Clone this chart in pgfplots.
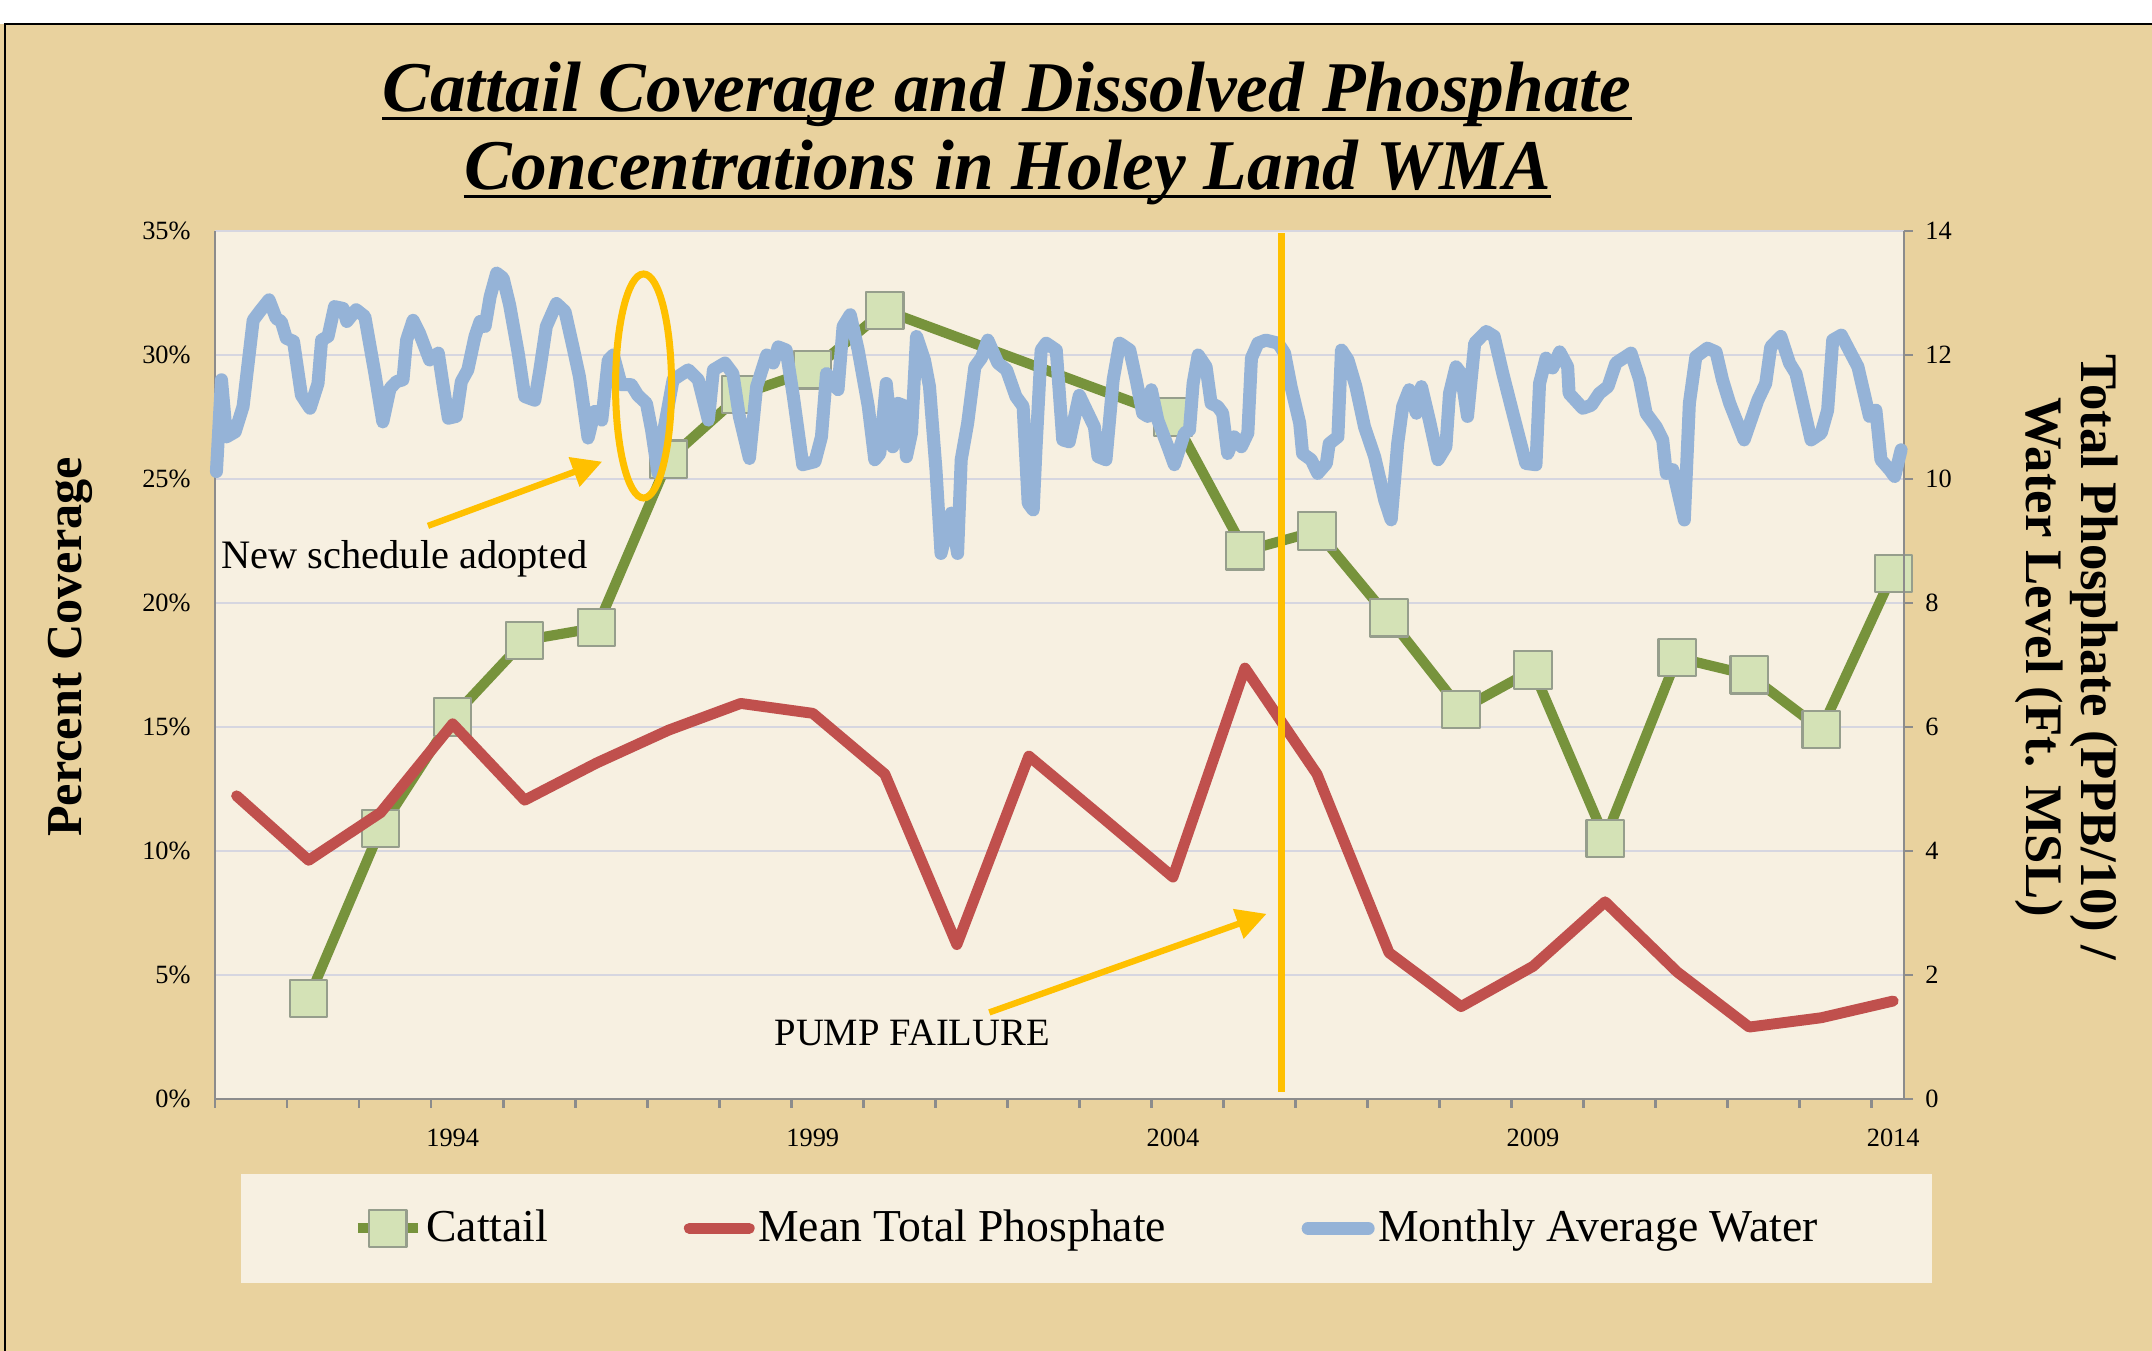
\documentclass[border=0pt]{standalone}
\usepackage{fontspec}
\setmainfont{Liberation Serif}
\usepackage{pgfplots}
\pgfplotsset{compat=1.18}
\usetikzlibrary{arrows.meta}

\definecolor{tanbg}{RGB}{233,210,158}
\definecolor{cream}{RGB}{247,240,225}
\definecolor{axisgray}{RGB}{140,140,140}
\definecolor{gridcol}{RGB}{214,214,224}
\definecolor{cgreen}{RGB}{119,147,60}
\definecolor{mgreen}{RGB}{212,226,182}
\definecolor{mborder}{RGB}{150,158,140}
\definecolor{cred}{RGB}{192,80,77}
\definecolor{cblue}{RGB}{149,179,215}
\definecolor{corange}{RGB}{255,192,0}

\pgfplotsset{
  cattail/.style={draw=cgreen, line width=2.9pt, line join=round, mark=square*, mark size=5.3pt,
    mark options={fill=mgreen, draw=mborder, line width=0.6pt}},
  phos/.style={draw=cred, line width=3.1pt, line join=round, line cap=round, no markers},
  water/.style={draw=cblue, line width=3.7pt, line join=round, line cap=round, no markers},
}

\begin{document}
\begin{tikzpicture}
\useasboundingbox (0,0) rectangle (21.52,13.51);
\fill[white] (0,0) rectangle (21.52,13.51);
\fill[tanbg] (0,0) rectangle (21.52,13.27);
\draw[black, line width=0.7pt] (0.05,0) -- (0.05,13.27) -- (21.52,13.27);
\fill[cream] (2.41,0.683) rectangle (19.32,1.77);

% title
\node[anchor=base, inner xsep=0pt, font=\fontsize{20.3}{24}\selectfont\bfseries\itshape] (t1) at (10.07,12.393) {Cattail Coverage and Dissolved Phosphate};
\draw[line width=0.8pt] ([yshift=-0.066cm]t1.base west) -- ([yshift=-0.066cm]t1.base east);
\node[anchor=base, inner xsep=0pt, font=\fontsize{20.3}{24}\selectfont\bfseries\itshape] (t2) at (10.075,11.61) {Concentrations in Holey Land WMA};
\draw[line width=0.8pt] ([yshift=-0.066cm]t2.base west) -- ([yshift=-0.066cm]t2.base east);

% axis titles
\node[rotate=90, font=\fontsize{14.3}{16}\selectfont\bfseries] at (0.70,7.04) {Percent Coverage};
\node[rotate=-90, align=center, font=\fontsize{15}{15.6}\selectfont\bfseries] at (20.665,6.94) {Total Phosphate (PPB/10) /\\Water Level (Ft. MSL)};

\begin{axis}[
  at={(2.15cm,2.52cm)}, anchor=south west, scale only axis,
  width=16.89cm, height=8.68cm,
  xmin=1990.70, xmax=2014.15, ymin=0, ymax=35,
  axis x line*=bottom, axis y line*=left,
  axis line style={draw=axisgray, line width=0.8pt},
  xtick={1994,1999,2004,2009,2014},
  xticklabels={1994,1999,2004,2009,2014},
  minor xtick={1990.7,1991.7,1992.7,1993.7,1994.7,1995.7,1996.7,1997.7,1998.7,1999.7,2000.7,2001.7,2002.7,2003.7,2004.7,2005.7,2006.7,2007.7,2008.7,2009.7,2010.7,2011.7,2012.7,2013.7},
  major tick length=0pt, minor tick length=0.09cm, tick align=outside,
  tick style={draw=axisgray, line width=0.8pt},
  ytick={0,5,...,35},
  yticklabel={\pgfmathprintnumber{\tick}\%},
  ymajorgrids, grid style={draw=gridcol, line width=0.6pt},
  axis background/.style={fill=cream},
  clip=false,
  /pgf/number format/assume math mode=true,
  ticklabel style={font=\fontsize{7.5}{9}\selectfont},
  yticklabel style={xshift=-0.12cm},
  xticklabel style={yshift=-0.18cm},
]
\addplot[cattail] coordinates {
(1992,4.06) (1993,10.9) (1994,15.4) (1995,18.5) (1996,19.0) (1997,25.8) (1998,28.4) (1999,29.4) (2000,31.8)
(2004,27.5) (2005,22.1) (2006,22.9) (2007,19.4) (2008,15.7) (2009,17.3) (2010,10.5) (2011,17.8) (2012,17.1) (2013,14.9) (2014,21.2)
};
\end{axis}

\begin{axis}[
  at={(2.15cm,2.52cm)}, anchor=south west, scale only axis,
  width=16.89cm, height=8.68cm,
  xmin=1990.70, xmax=2014.15, ymin=0, ymax=14,
  axis x line=none, axis y line*=right,
  axis line style={draw=axisgray, line width=0.8pt},
  ytick={0,2,...,14},
  major tick length=0.09cm, tick align=outside,
  tick style={draw=axisgray, line width=0.8pt},
  clip=false,
  /pgf/number format/assume math mode=true,
  ticklabel style={font=\fontsize{7.5}{9}\selectfont},
  legend style={at={(0.5163,-0.149)}, anchor=center, draw=none, fill=none,
    legend columns=3, font=\fontsize{13}{15}\selectfont,
    /tikz/every even column/.append style={column sep=1.32cm},
    nodes={inner xsep=1pt}},
  legend image code/.code={\draw[mark repeat=2,mark phase=2,#1] plot coordinates {(0cm,0cm) (0.3cm,0cm) (0.6cm,0cm)};},
]
\addlegendimage{cattail}
\addlegendentry{Cattail}
\addplot[phos] coordinates {
(1991,4.89) (1992,3.85) (1993,4.62) (1994,6.05) (1995,4.82) (1996,5.42) (1997,5.95) (1998,6.38) (1999,6.22)
(2000,5.24) (2001,2.49) (2002,5.53) (2003,4.56) (2004,3.58) (2005,6.95) (2006,5.24) (2007,2.36) (2008,1.49)
(2009,2.14) (2010,3.18) (2011,2.05) (2012,1.16) (2013,1.31) (2014,1.58)
};
\addlegendentry{Mean Total Phosphate}
\addplot[water] coordinates {
(1990.72,10.12) (1990.79,11.60) (1990.86,10.68) (1990.98,10.76) (1991.09,11.17) (1991.23,12.56) (1991.32,12.70)
(1991.45,12.89) (1991.55,12.59) (1991.62,12.54) (1991.69,12.27) (1991.79,12.22) (1991.90,11.35) (1992.02,11.14)
(1992.13,11.54) (1992.18,12.24) (1992.27,12.30) (1992.36,12.78) (1992.48,12.75) (1992.53,12.54) (1992.66,12.73)
(1992.78,12.62) (1992.92,11.70) (1993.03,10.92) (1993.13,11.46) (1993.22,11.57) (1993.31,11.60) (1993.36,12.24)
(1993.45,12.56) (1993.54,12.35) (1993.68,11.92) (1993.80,12.03) (1993.87,11.49) (1993.94,10.98) (1994.05,11.01)
(1994.12,11.57) (1994.21,11.76) (1994.31,12.30) (1994.38,12.54) (1994.45,12.46) (1994.52,12.94) (1994.61,13.32)
(1994.70,13.24) (1994.79,12.81) (1994.91,12.03) (1995.00,11.33) (1995.14,11.27) (1995.21,11.76) (1995.30,12.46)
(1995.44,12.83) (1995.56,12.70) (1995.67,12.13) (1995.76,11.65) (1995.88,10.66) (1995.97,11.09) (1996.07,10.95)
(1996.16,11.92) (1996.23,12.00) (1996.34,11.52) (1996.48,11.52) (1996.57,11.35) (1996.69,11.22) (1996.76,10.80)
(1996.85,10.10) (1996.94,10.84) (1997.06,11.60) (1997.27,11.76) (1997.41,11.60) (1997.55,10.95) (1997.62,11.76)
(1997.78,11.87) (1997.89,11.70) (1997.98,11.01) (1998.12,10.33) (1998.22,11.49) (1998.36,12.00) (1998.45,11.87)
(1998.52,12.13) (1998.63,12.08) (1998.73,11.33) (1998.86,10.23) (1999.03,10.28) (1999.12,10.68) (1999.19,11.70)
(1999.35,11.44) (1999.42,12.46) (1999.52,12.65) (1999.63,12.08) (1999.77,11.17) (1999.86,10.31) (1999.93,10.41)
(2000.02,11.54) (2000.11,10.52) (2000.18,11.22) (2000.25,11.19) (2000.30,10.36) (2000.37,10.74) (2000.44,12.30)
(2000.55,11.92) (2000.62,11.49) (2000.71,10.15) (2000.78,8.80) (2000.92,9.45) (2001.01,8.80) (2001.06,10.31)
(2001.15,10.90) (2001.25,11.81) (2001.34,11.95) (2001.43,12.24) (2001.57,11.87) (2001.69,11.76) (2001.82,11.33)
(2001.92,11.17) (2001.99,9.61) (2002.06,9.50) (2002.10,10.52) (2002.17,12.08) (2002.24,12.19) (2002.38,12.08)
(2002.47,10.63) (2002.56,10.60) (2002.70,11.35) (2002.91,10.84) (2002.96,10.36) (2003.07,10.31) (2003.17,11.60)
(2003.26,12.19) (2003.40,12.08) (2003.49,11.60) (2003.58,11.06) (2003.65,11.01) (2003.70,11.44) (2003.79,10.95)
(2003.93,10.52) (2004.02,10.23) (2004.16,10.74) (2004.23,10.79) (2004.28,11.54) (2004.35,12.00) (2004.46,11.81)
(2004.53,11.22) (2004.62,11.17) (2004.69,11.06) (2004.76,10.41) (2004.85,10.68) (2004.95,10.52) (2005.04,10.74)
(2005.09,11.95) (2005.18,12.19) (2005.29,12.24) (2005.46,12.19) (2005.55,12.03) (2005.64,11.49) (2005.76,10.90)
(2005.80,10.41) (2005.92,10.31) (2006.01,10.09) (2006.13,10.25) (2006.17,10.57) (2006.29,10.68) (2006.34,12.08)
(2006.43,11.92) (2006.54,11.49) (2006.66,10.84) (2006.80,10.36) (2006.94,9.66) (2007.03,9.34) (2007.12,10.57)
(2007.19,11.17) (2007.28,11.44) (2007.38,11.06) (2007.45,11.49) (2007.56,10.95) (2007.68,10.31) (2007.79,10.52)
(2007.84,11.38) (2007.93,11.81) (2008.00,11.70) (2008.09,11.01) (2008.19,12.19) (2008.35,12.38) (2008.46,12.30)
(2008.58,11.70) (2008.72,11.06) (2008.90,10.25) (2009.04,10.23) (2009.09,11.54) (2009.18,11.95) (2009.27,11.79)
(2009.37,12.05) (2009.48,11.81) (2009.50,11.38) (2009.69,11.14) (2009.81,11.19) (2009.92,11.38) (2010.04,11.49)
(2010.15,11.87) (2010.36,12.03) (2010.48,11.60) (2010.57,11.06) (2010.71,10.84) (2010.80,10.63) (2010.85,10.09)
(2010.94,10.15) (2011.10,9.34) (2011.17,11.22) (2011.26,11.97) (2011.42,12.11) (2011.54,12.05) (2011.63,11.60)
(2011.73,11.22) (2011.93,10.63) (2012.12,11.27) (2012.23,11.54) (2012.30,12.13) (2012.44,12.30) (2012.56,11.87)
(2012.65,11.70) (2012.86,10.63) (2013.00,10.74) (2013.09,11.11) (2013.16,12.24) (2013.28,12.32) (2013.41,12.03)
(2013.51,11.81) (2013.67,11.01) (2013.76,11.11) (2013.83,10.31) (2013.95,10.15) (2014.02,10.04) (2014.11,10.47)
};
\addlegendentry{Monthly Average Water}

% annotations
\draw[corange, line width=2pt] (axis cs:2005.505,0.11) -- (axis cs:2005.505,13.96);
\draw[corange, line width=2pt] (axis cs:1996.65,11.50) ellipse [x radius=0.28cm, y radius=1.12cm];
\draw[corange, line width=1.8pt, -{Triangle[length=0.3cm,width=0.3cm]}] (axis cs:1993.657,9.244) -- (axis cs:1996.076,10.28);
\draw[corange, line width=1.8pt, -{Triangle[length=0.3cm,width=0.3cm]}] (axis cs:2001.45,1.396) -- (axis cs:2005.30,2.986);
\node[font=\fontsize{11.5}{13}\selectfont] at (axis cs:1993.33,8.71) {New schedule adopted};
\node[font=\fontsize{11}{13}\selectfont] at (axis cs:2000.38,1.067) {PUMP FAILURE};
\end{axis}
\end{tikzpicture}
\end{document}
